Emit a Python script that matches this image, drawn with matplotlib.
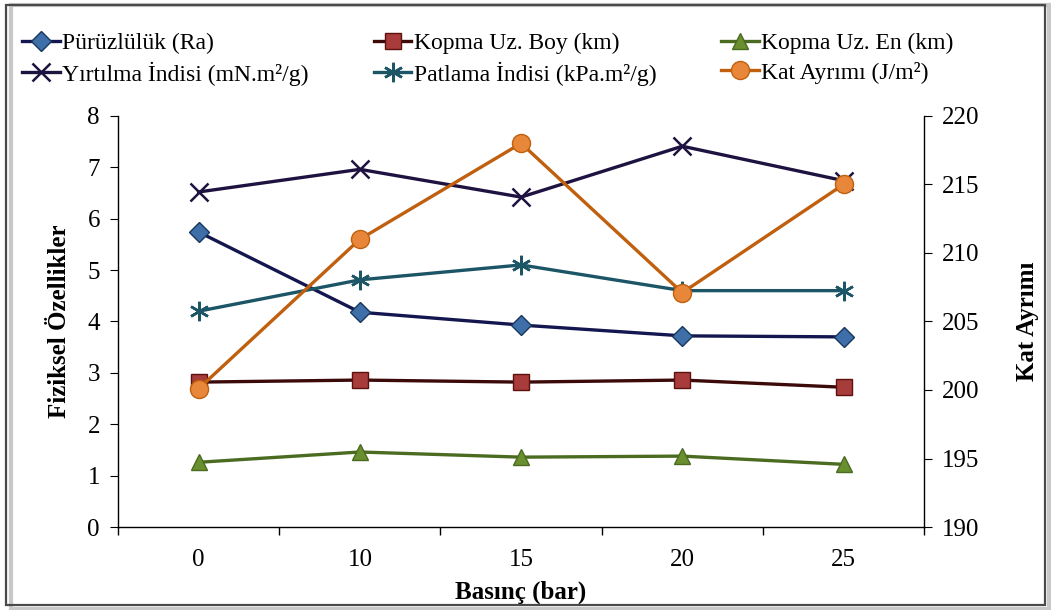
import numpy as np
from matplotlib import pyplot as plt
from matplotlib.patches import Rectangle

plt.rcParams['font.family'] = ['Liberation Serif', 'DejaVu Serif']

basinc = ['0', '10', '15', '20', '25']
puruzluluk = [5.74, 4.18, 3.93, 3.72, 3.70]
kopma_boy = [2.82, 2.86, 2.82, 2.86, 2.72]
kopma_en = [1.26, 1.46, 1.36, 1.38, 1.22]
yirtilma = [6.52, 6.96, 6.42, 7.41, 6.74]
patlama = [4.20, 4.81, 5.10, 4.60, 4.60]
kat_ayrimi = [200.1, 211.0, 218.0, 207.1, 215.0]

fig = plt.figure(figsize=(10.51, 6.10), dpi=100)
ax = fig.add_axes([0.1123, 0.136, 0.767, 0.674])
ax2 = ax.twinx()

x = np.arange(len(basinc))
lw = 2.4
h1, = ax.plot(x, puruzluluk, color='#14164f', lw=lw, marker='D', ms=10.5,
              mfc='#3f6fa8', mec='#17375e', mew=1, label='Pürüzlülük (Ra)')
h2, = ax.plot(x, kopma_boy, color='#3d0a0a', lw=lw, marker='s', ms=11,
              mfc='#a83c3a', mec='#5e1010', mew=1, label='Kopma Uz. Boy (km)')
h3, = ax.plot(x, kopma_en, color='#4a6b20', lw=lw, marker='^', ms=12,
              mfc='#6a8f2e', mec='#4a6b20', mew=1, label='Kopma Uz. En (km)')
h4, = ax.plot(x, yirtilma, color='#1e1240', lw=lw, marker='x', ms=13,
              mec='#1e1240', mew=1.8, label='Yırtılma İndisi (mN.m²/g)')
h5, = ax.plot(x, patlama, color='#1b5566', lw=lw, marker=(6, 2, 0), ms=14,
              mec='#1b5566', mew=1.8, label='Patlama İndisi (kPa.m²/g)')
h6, = ax2.plot(x, kat_ayrimi, color='#c0600e', lw=lw, marker='o', ms=13,
               mfc='#e8873a', mec='#c0600e', mew=1, label='Kat Ayrımı (J/m²)')

ax.set_xlim(-0.5, 4.5)
ax.set_ylim(0, 8)
ax2.set_ylim(190, 220)
ax.set_yticks(range(0, 9))
ax2.set_yticks(range(190, 221, 5))
ax.set_xticks(x)
ax.set_xticklabels(basinc)
ax.set_xticks(np.arange(-0.5, 4.6, 1), minor=True)
ax.tick_params(axis='x', which='major', length=0, pad=16, labelsize=18)
ax.tick_params(axis='x', which='minor', length=6, direction='out', width=1)
ax.tick_params(axis='y', length=6, direction='out', labelsize=18, pad=7)
ax2.tick_params(axis='y', length=6, direction='out', labelsize=18, pad=7)

for a in (ax, ax2):
    a.spines['top'].set_visible(False)
    for s in a.spines.values():
        s.set_linewidth(1)
ax.spines['right'].set_visible(False)
ax2.spines['left'].set_visible(False)
ax2.spines['bottom'].set_visible(False)

ax.set_ylabel('Fiziksel Özellikler', fontsize=18, fontweight='bold', labelpad=12)
ax2.set_ylabel('Kat Ayrımı', fontsize=18, fontweight='bold', labelpad=26)
ax.set_xlabel('Basınç (bar)', fontsize=18, fontweight='bold', labelpad=7)

handles = [h1, h4, h2, h5, h3, h6]
fig.legend(handles=handles, labels=[h.get_label() for h in handles], ncol=3,
           loc='upper left', bbox_to_anchor=(0.021, 0.946), frameon=False,
           borderpad=0, borderaxespad=0,
           fontsize=17, handlelength=1.6, handletextpad=0.1, columnspacing=2.75,
           labelspacing=0.3)

# figure frame with a light shadow
fig.patches.append(Rectangle((0.010, 0.002), 0.988, 0.99, transform=fig.transFigure,
                             fill=False, ec='#c8c8c8', lw=3, zorder=0))
fig.patches.append(Rectangle((0.006, 0.008), 0.988, 0.983, transform=fig.transFigure,
                             fill=False, ec='#4a4a4a', lw=1.6, zorder=1))

fig.savefig('out.png', dpi=100)
